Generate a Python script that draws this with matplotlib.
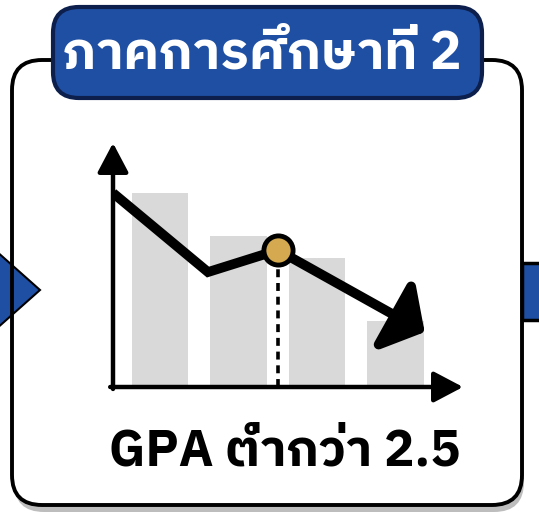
import matplotlib
matplotlib.use("Agg")
import matplotlib.pyplot as plt
from matplotlib.patches import FancyBboxPatch, Polygon, Rectangle

# bars (background) and trend line, in chart units
bar_pos = [0.6, 1.6, 2.6, 3.6]
bar_vals = [7.95, 6.19, 5.29, 2.70]
line_x = [0.0, 1.21, 2.10, 3.97]
line_y = [7.95, 4.71, 5.61, 2.25]
mark_idx = 2  # highlighted point

title = "ภาคการศึกษาที่ 2"
caption = "GPA ต่ำกว่า 2.5"

# IBM Plex Sans Thai carries both Latin and Thai, in a real bold
plt.rcParams["font.family"] = ["IBM Plex Sans Thai", "Noto Sans Thai", "DejaVu Sans"]

fig = plt.figure(figsize=(5.39, 5.19), dpi=100)
bg = fig.add_axes([0, 0, 1, 1])
bg.set_xlim(0, 539)
bg.set_ylim(519, 0)
bg.axis("off")

blue = "#1f4fa3"
navy = "#0d1f4d"

# card shadow, face, outline
bg.add_patch(FancyBboxPatch((14, 66), 510, 446, boxstyle="round,pad=0,rounding_size=30",
                            fc="#bdbdbd", ec="none", zorder=0))
bg.add_patch(FancyBboxPatch((12, 60), 510, 445, boxstyle="round,pad=0,rounding_size=30",
                            fc="white", ec="none", zorder=1))
# arrow coming in from the left, arrow block leaving on the right
bg.add_patch(Polygon([[-5, 250], [40, 290], [-5, 330]], closed=True, fc=blue, ec="black",
                     lw=1.5, zorder=2))
bg.add_patch(Rectangle((522, 263), 30, 57, fc=blue, ec="black", lw=2.5, zorder=2))
bg.add_patch(FancyBboxPatch((12, 60), 510, 445, boxstyle="round,pad=0,rounding_size=30",
                            fc="none", ec="black", lw=2.8, zorder=3))

# title banner
bg.add_patch(FancyBboxPatch((53, 7), 429, 91, boxstyle="round,pad=0,rounding_size=26",
                            fc=blue, ec=navy, lw=3, zorder=4))
bg.text(262, 54, title, color="white", fontsize=38, fontweight="bold",
        ha="center", va="center", zorder=5)

bg.text(285, 451, caption, color="black", fontsize=36.5, fontweight="bold",
        ha="center", va="center", zorder=5)

# chart area
ax = fig.add_axes([113 / 539, 1 - 387 / 519, 350 / 539, 244 / 519])
ax.patch.set_alpha(0)
ax.set_xlim(0, 350 / 78.5)
ax.set_ylim(0, 10)
for s in ax.spines.values():
    s.set_visible(False)
ax.set_xticks([])
ax.set_yticks([])

ax.bar(bar_pos, bar_vals, width=0.72, color="#d9d9d9", zorder=1)

# axes as arrows
axis_arrow = dict(arrowstyle="-|>,head_length=1.8,head_width=0.95", lw=3.2,
                  color="black", shrinkA=0, shrinkB=0)
ax.annotate("", xy=(0, 1), xytext=(0, -0.008), xycoords="axes fraction",
            arrowprops=axis_arrow, zorder=6)
ax.annotate("", xy=(1, 0), xytext=(-0.008, 0), xycoords="axes fraction",
            arrowprops=axis_arrow, zorder=6)

mx, my = line_x[mark_idx], line_y[mark_idx]
ax.plot([mx, mx], [0, my], color="black", lw=2.6, ls=(0, (2.2, 1.6)), zorder=3)

ax.plot(line_x[:-1], line_y[:-1], color="black", lw=7, solid_joinstyle="miter",
        solid_capstyle="butt", zorder=4)
ax.annotate("", xy=(line_x[-1], line_y[-1]), xytext=(mx, my),
            arrowprops=dict(arrowstyle="-|>,head_length=0.5,head_width=0.6", lw=7,
                            color="black", shrinkA=0, shrinkB=0, mutation_scale=40),
            zorder=4)
ax.plot([mx], [my], "o", ms=21, mfc="#d4a94f", mec="black", mew=3.5, zorder=5)

fig.savefig("out.png", dpi=100)
